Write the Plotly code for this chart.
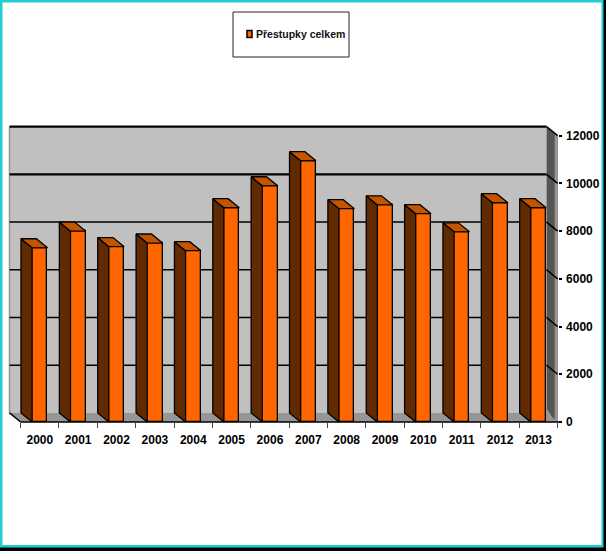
import plotly.graph_objects as go

# ============================================
# DATA
# ============================================
years = ["2000", "2001", "2002", "2003", "2004", "2005", "2006",
         "2007", "2008", "2009", "2010", "2011", "2012", "2013"]
offences = [7300, 8000, 7350, 7500, 7180, 8980, 9900,
            10950, 8940, 9100, 8730, 7970, 9190, 8980]
y_ticks = [0, 2000, 4000, 6000, 8000, 10000, 12000]
series_name = "Přestupky celkem"

# ============================================
# STYLE
# ============================================
W, H = 606, 551
ORANGE, SIDE, TOP = "#FF6600", "#622A00", "#C45500"
WALL, FLOOR, RIGHT_WALL = "#C0C0C0", "#969696", "#555555"
FRAME = "#1FCFCF"
FONT = "Liberation Sans"

BAR_W = 0.40       # bar width, in categories
DEPTH_X = 0.29     # fake 3D depth, in categories
DEPTH_Y = 380      # fake 3D depth, in value units
X_LEFT, X_RIGHT = -0.5, len(years) - 0.5
Y_MAX = max(y_ticks)

# axes fill the whole page, so the scales come from where the reference has them
PX_PER_CAT = 38.36
PX_PER_VAL = 286.3 / 12000
X0_PX, Y0_PX = 39.8, 422


def xval(px):
    return (px - X0_PX) / PX_PER_CAT


def yval(py):
    return (Y0_PX - py) / PX_PER_VAL


def poly(points, fill):
    path = "M" + "L".join(f"{x},{y}" for x, y in points) + "Z"
    return dict(type="path", path=path, xref="x", yref="y", layer="below",
                fillcolor=fill, line=dict(color=fill, width=0))


def seg(x0, y0, x1, y1, width=1.5, color="black"):
    return dict(type="line", x0=x0, y0=y0, x1=x1, y1=y1, xref="x", yref="y",
                layer="below", line=dict(color=color, width=width))


def page_rect(x0, y0, x1, y1, **kw):
    return dict(type="rect", xref="paper", yref="paper", layer="below",
                x0=x0 / W, x1=x1 / W, y0=1 - y0 / H, y1=1 - y1 / H, **kw)


# ============================================
# WALLS, FLOOR, GRID
# ============================================
back_l, back_r = X_LEFT - DEPTH_X, X_RIGHT - DEPTH_X
strip = 3 / PX_PER_CAT

shapes = [
    page_rect(0, 0, W, H, fillcolor="black", line_width=0),
    page_rect(0, 0, 603.5, 547.5, fillcolor=FRAME, line_width=0),
    page_rect(2.5, 2.5, 601.5, 545, fillcolor="white", line_width=0),
    poly([(back_l, DEPTH_Y), (back_r, DEPTH_Y), (back_r, Y_MAX + DEPTH_Y), (back_l, Y_MAX + DEPTH_Y)], WALL),
    poly([(back_l, DEPTH_Y), (back_r, DEPTH_Y), (X_RIGHT, 0), (X_LEFT, 0)], FLOOR),
    poly([(back_r, DEPTH_Y), (X_RIGHT, 0), (X_RIGHT, Y_MAX), (back_r, Y_MAX + DEPTH_Y)], RIGHT_WALL),
    poly([(X_RIGHT - strip, 0), (X_RIGHT, 0), (X_RIGHT, Y_MAX), (X_RIGHT - strip, Y_MAX + DEPTH_Y * 0.27)], FLOOR),
    poly([(back_r, DEPTH_Y), (back_r, DEPTH_Y + 200), (X_RIGHT - strip, 30)], FLOOR),
    seg(back_l, DEPTH_Y, back_l, Y_MAX + DEPTH_Y, 1.5, FLOOR),
    seg(back_l, DEPTH_Y, X_LEFT, 0, 1.5),
    seg(X_LEFT, 0, X_RIGHT + 0.08, 0, 1.5),
]
for v in y_ticks[1:]:
    w = 2.2 if v >= 10000 else 1.6
    shapes.append(seg(back_l, v + DEPTH_Y, back_r, v + DEPTH_Y, w))
    shapes.append(seg(back_r, v + DEPTH_Y, X_RIGHT, v, 1.5))

# legend box and swatch
shapes.append(page_rect(233, 12, 349, 57, fillcolor="white", line=dict(color="#222222", width=1)))
shapes.append(page_rect(247, 30.5, 252, 37.5, fillcolor=ORANGE, line=dict(color="black", width=1.5)))

# ============================================
# CHART
# ============================================
fig = go.Figure()

positions = list(range(len(years)))
for i, v in zip(positions, offences):
    x0 = i - BAR_W / 2
    x1 = i + BAR_W / 2
    fig.add_trace(go.Scatter(
        x=[x0, x0 - DEPTH_X, x0 - DEPTH_X, x0, x0],
        y=[0, DEPTH_Y, v + DEPTH_Y, v, 0],
        mode="lines", fill="toself", fillcolor=SIDE,
        line=dict(color="black", width=1.3), showlegend=False, hoverinfo="skip"))
    fig.add_trace(go.Scatter(
        x=[x0, x1, x1 - DEPTH_X, x0 - DEPTH_X, x0],
        y=[v, v, v + DEPTH_Y, v + DEPTH_Y, v],
        mode="lines", fill="toself", fillcolor=TOP,
        line=dict(color="black", width=1.3), showlegend=False, hoverinfo="skip"))

fig.add_trace(go.Bar(
    x=positions, y=offences, width=BAR_W, name=series_name, showlegend=False,
    marker=dict(color=ORANGE, line=dict(color="black", width=1.3))))

fig.update_layout(
    width=W, height=H,
    margin=dict(l=0, r=0, t=0, b=0),
    paper_bgcolor="white", plot_bgcolor="rgba(0,0,0,0)",
    font=dict(family=FONT, size=12, color="black"),
    shapes=shapes,
    bargap=0,
    showlegend=False,
    annotations=[dict(text=f"<b>{series_name}</b>", xref="paper", yref="paper",
                      x=253.5 / W, y=1 - 34 / H, xanchor="left", yanchor="middle",
                      showarrow=False, font=dict(family=FONT, size=10.5, color="#111111"))],
    xaxis=dict(range=[xval(0), xval(W)], anchor="free", position=1 - Y0_PX / H,
               tickmode="array", tickvals=positions, ticktext=years,
               ticks="outside", ticklen=7, tickcolor="rgba(0,0,0,0)",
               tickfont=dict(family=FONT, size=12, weight="bold"),
               minor=dict(tickmode="array",
                          tickvals=[p - 0.5 for p in positions] + [X_RIGHT],
                          ticks="outside", ticklen=5, tickcolor="#444444", tickwidth=1),
               showgrid=False, showline=False, zeroline=False, fixedrange=True),
    yaxis=dict(range=[yval(H), yval(0)], side="right", anchor="free",
               position=(X0_PX + X_RIGHT * PX_PER_CAT) / W,
               tickmode="array", tickvals=y_ticks, ticktext=[str(t) for t in y_ticks],
               ticks="outside", ticklen=3, tickwidth=1.5, tickcolor="black",
               ticklabelstandoff=2,
               tickfont=dict(family=FONT, size=12, weight="bold"),
               showgrid=False, showline=False, zeroline=False, fixedrange=True),
)

fig.write_html("out.html", config=dict(displayModeBar=False),
               post_script="document.body.style.margin='0';")
